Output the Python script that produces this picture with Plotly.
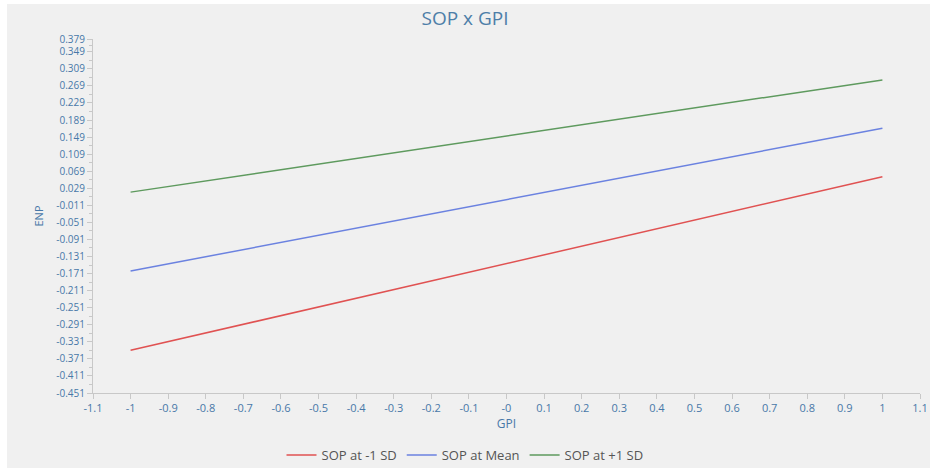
import plotly.graph_objects as go

# ---- data ----
gpi = [-1, 1]
sop_low = [-0.351, 0.056]
sop_mean = [-0.165, 0.170]
sop_high = [0.020, 0.283]
series_names = ["SOP at -1 SD", "SOP at Mean", "SOP at +1 SD"]
series_colors = ["#e05252", "#6b82e0", "#5e9a5e"]

y_ticks = [-0.451, -0.411, -0.371, -0.331, -0.291, -0.251, -0.211, -0.171, -0.131,
           -0.091, -0.051, -0.011, 0.029, 0.069, 0.109, 0.149, 0.189, 0.229, 0.269,
           0.309, 0.349, 0.379]
y_labels = ["-0.451", "-0.411", "-0.371", "-0.331", "-0.291", "-0.251", "-0.211", "-0.171",
            "-0.131", "-0.091", "-0.051", "-0.011", "0.029", "0.069", "0.109", "0.149",
            "0.189", "0.229", "0.269", "0.309", "0.349", "0.379"]
x_ticks = [-1.1, -1.0, -0.9, -0.8, -0.7, -0.6, -0.5, -0.4, -0.3, -0.2, -0.1, 0.0,
           0.1, 0.2, 0.3, 0.4, 0.5, 0.6, 0.7, 0.8, 0.9, 1.0, 1.1]
x_labels = ["-1.1", "-1", "-0.9", "-0.8", "-0.7", "-0.6", "-0.5", "-0.4", "-0.3", "-0.2",
            "-0.1", "-0", "0.1", "0.2", "0.3", "0.4", "0.5", "0.6", "0.7", "0.8", "0.9",
            "1", "1.1"]

FONT = "Open Sans, Noto Sans, sans-serif"
TICK_COLOR = "#4878a8"
AXIS_COLOR = "#c8c8c8"

fig = go.Figure()
for name, ys, col in zip(series_names, [sop_low, sop_mean, sop_high], series_colors):
    fig.add_trace(go.Scatter(x=gpi, y=ys, mode="lines", name=name,
                             line=dict(color=col, width=1.5)))

minor_y = [v + 0.02 for v in y_ticks[:-2]] + [0.364]

fig.update_layout(
    width=930, height=468,
    margin=dict(l=93, r=10, t=39, b=75, autoexpand=False),
    paper_bgcolor="white",
    plot_bgcolor="rgba(0,0,0,0)",
    font=dict(family=FONT, color=TICK_COLOR),
    title=dict(text="SOP x GPI", x=0.5, xanchor="center", xref="container",
               y=1 - 18 / 468, yref="container", yanchor="middle",
               font=dict(size=19, color="#4d7ea8", family=FONT)),
    showlegend=True,
    legend=dict(orientation="h", x=0.5, xanchor="center", xref="container",
                y=1 - 455 / 468, yref="container", yanchor="middle",
                font=dict(size=13, color="#555555", family=FONT),
                itemwidth=30, tracegroupgap=0, bgcolor="rgba(0,0,0,0)"),
    xaxis=dict(range=[-1.1, 1.10001], tickmode="array", tickvals=x_ticks, ticktext=x_labels,
               automargin=False,
               showgrid=False, zeroline=False, showline=True, linecolor=AXIS_COLOR,
               linewidth=1, ticks="outside", ticklen=5, tickcolor=AXIS_COLOR,
               ticklabeloverflow="allow",
               tickfont=dict(size=11, color=TICK_COLOR, family=FONT),
               title=dict(text="GPI", standoff=2,
                          font=dict(size=12, color=TICK_COLOR, family=FONT))),
    yaxis=dict(range=[-0.451, 0.379], tickmode="array", tickvals=y_ticks, ticktext=y_labels,
               automargin=False,
               showgrid=False, zeroline=False, showline=True, linecolor=AXIS_COLOR,
               linewidth=1, ticks="outside", ticklen=5, tickcolor=AXIS_COLOR,
               ticklabeloverflow="allow",
               tickfont=dict(size=10, color=TICK_COLOR, family=FONT),
               minor=dict(tickmode="array", tickvals=minor_y, ticks="outside",
                          ticklen=3, tickcolor=AXIS_COLOR, showgrid=False),
               title=dict(text="ENP", standoff=10,
                          font=dict(size=11, color=TICK_COLOR, family=FONT))),
)

# light grey panel background (slight white border top/left as in reference)
fig.add_shape(type="rect", xref="paper", yref="paper",
              x0=(7 - 93) / 827, x1=1 + 14 / 827,
              y0=-(75 + 5) / 354, y1=(393 - 4) / 354,
              fillcolor="#f0f0f0", line=dict(width=0), layer="below")

fig.write_html("out.html")
